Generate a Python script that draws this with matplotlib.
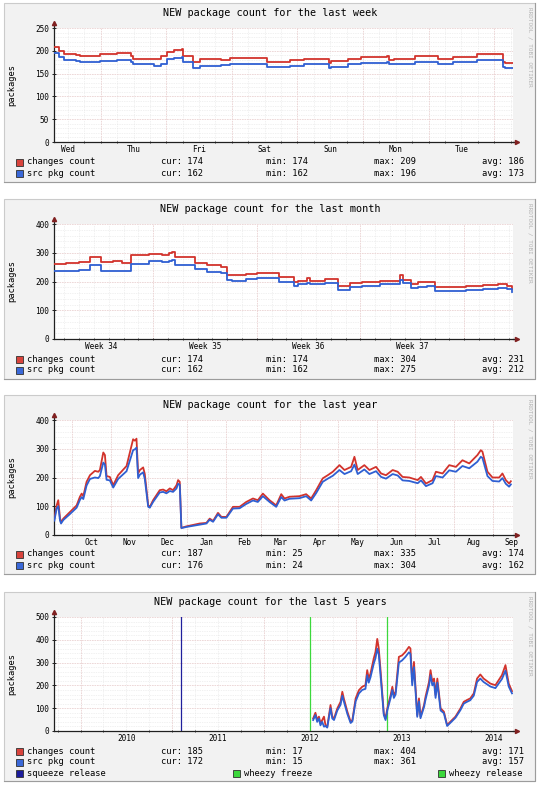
import numpy as np
import pandas as pd
import matplotlib
matplotlib.use('Agg')
import matplotlib.pyplot as plt
import matplotlib.dates as mdates
from matplotlib.patches import Rectangle
from matplotlib.lines import Line2D

# ---------------- data ----------------
# last week: x in hours from the left edge of the graph
week_hours = [0, 2, 3.5, 8, 9.5, 17, 23, 28, 29, 36.5, 39, 41.5, 44, 46.8, 47.2, 51, 53.5, 61,
              64.5, 78, 86.5, 91.5, 100.7, 101.3, 107.5, 112.3, 122, 122.7, 124.5, 132, 140.4,
              146, 155, 164.3, 165, 168]
week_changes = [209, 199, 192, 190, 188, 193, 196, 189, 182, 181, 188, 198, 201, 203, 188, 176,
                181, 179, 185, 176, 179, 182, 174, 177, 183, 187, 188, 180, 183, 188, 183, 187,
                192, 176, 174, 174]
week_src = [196, 187, 180, 177, 176, 178, 180, 176, 170, 166, 172, 182, 185, 187, 175, 163, 167,
            168, 172, 164, 167, 170, 162, 165, 170, 174, 176, 170, 172, 175, 172, 175, 179, 164,
            162, 162]
week_labels = ['Wed', 'Thu', 'Fri', 'Sat', 'Sun', 'Mon', 'Tue']
week_stats = [['174', '174', '209', '186'], ['162', '162', '196', '173']]

# last month: x in days from the left edge of the graph
month_days = [0, 0.8, 1.7, 2.4, 3.2, 4.0, 4.6, 5.2, 6.4, 7.3, 7.8, 8.0, 8.2, 9.0, 9.5, 10.3,
              11.3, 11.7, 12.0, 13.0, 13.7, 15.2, 16.2, 16.5, 17.1, 17.3, 18.3, 19.2, 20.0, 20.8,
              22.0, 23.4, 23.6, 24.1, 24.6, 25.2, 25.7, 26.5, 27.8, 29.0, 30.0, 30.6, 30.9]
month_changes = [262, 265, 268, 285, 268, 270, 266, 291, 296, 293, 300, 304, 286, 285, 264, 256,
                 250, 222, 221, 226, 230, 216, 198, 203, 212, 203, 207, 186, 195, 198, 203, 221,
                 206, 192, 198, 200, 180, 180, 186, 188, 190, 186, 174]
month_src = [236, 238, 240, 256, 237, 238, 238, 262, 270, 268, 272, 275, 258, 256, 242, 232, 228,
             205, 203, 210, 212, 200, 186, 190, 196, 190, 194, 172, 182, 186, 190, 205, 194, 178,
             182, 184, 168, 166, 170, 174, 176, 174, 162]
month_labels = ['Week 34', 'Week 35', 'Week 36', 'Week 37']
month_stats = [['174', '174', '304', '231'], ['162', '162', '275', '212']]

# last year: x in days since 2013-09-17
year_days = [0.3, 2.1, 3.4, 4.8, 5.6, 7.4, 12.7, 18, 20.6, 22, 23.3, 25.9, 28.6, 32.5, 35.2,
             36.5, 39.2, 40.5, 41.8, 44.4, 47.1, 51, 57.7, 62.9, 64.3, 65.6, 66.9, 68.3, 70.9,
             72.2, 74.9, 76.2, 78.8, 84.1, 86.8, 89.4, 92.1, 94.7, 97.4, 98.7, 100, 101.3, 105.3,
             110.6, 115.9, 121.2, 123.8, 126.5, 130.4, 133.1, 137.1, 142.3, 147.6, 152.9, 158.2,
             162.1, 166.1, 171.4, 176.7, 180.7, 183.3, 187.3, 195.2, 200.5, 204.5, 208.5, 213.7,
             217.7, 221.7, 227, 231, 236.3, 238.9, 241.5, 246.8, 250.8, 256.1, 260.1, 264, 269.3,
             273.3, 277.2, 282.5, 289.2, 291.8, 295.8, 301, 303.7, 309, 314.3, 319.6, 324.8,
             330.2, 336.7, 339.4, 340.7, 344.7, 348.7, 354, 356.6, 359.3, 361.9, 363.3]
year_changes = [57, 103, 121, 57, 45, 57, 80, 103, 133, 144,
                135, 185, 208, 223, 220, 226, 287, 278, 205, 202,
                173, 208, 240, 333, 328, 335, 214, 226, 235, 212,
                103, 98, 121, 156, 158, 152, 162, 156, 173, 191,
                185, 25, 30, 35, 40, 42, 57, 49, 77, 63,
                63, 98, 98, 115, 127, 121, 144, 121, 103, 142,
                127, 133, 135, 142, 127, 156, 197, 208, 220, 243,
                226, 237, 272, 226, 243, 226, 237, 214, 208, 226,
                220, 202, 200, 191, 202, 179, 191, 220, 214, 243,
                237, 260, 249, 278, 295, 290, 220, 200, 200, 214,
                191, 179, 187]
year_src = [50, 92, 100, 50, 40, 52, 73, 95, 122, 132,
            125, 172, 195, 200, 198, 205, 252, 245, 192, 190,
            165, 195, 222, 295, 298, 304, 198, 210, 218, 195,
            98, 95, 115, 148, 150, 145, 153, 150, 162, 178,
            175, 24, 28, 32, 36, 40, 53, 46, 72, 60,
            60, 92, 93, 108, 120, 115, 135, 115, 98, 132,
            120, 126, 128, 135, 120, 146, 185, 196, 206, 226,
            212, 222, 245, 212, 228, 212, 222, 202, 196, 212,
            207, 190, 188, 180, 190, 170, 180, 205, 200, 225,
            220, 240, 232, 255, 272, 268, 205, 188, 186, 198,
            178, 168, 176]
year_labels = ['Oct', 'Nov', 'Dec', 'Jan', 'Feb', 'Mar', 'Apr', 'May', 'Jun', 'Jul', 'Aug', 'Sep']
year_month_starts = [14, 45, 75, 106, 137, 165, 196, 226, 257, 287, 318, 349, 379]
year_stats = [['187', '25', '335', '174'], ['176', '24', '304', '162']]

# last 5 years
five_dates = ['2012-07-14', '2012-07-23', '2012-07-30', '2012-08-06', '2012-08-12', '2012-08-19',
              '2012-08-26', '2012-09-01', '2012-09-08', '2012-09-21', '2012-09-28', '2012-10-05',
              '2012-10-18', '2012-10-31', '2012-11-07', '2012-11-13', '2012-11-27', '2012-12-10',
              '2012-12-17', '2012-12-30', '2013-01-12', '2013-01-25', '2013-02-07', '2013-02-14',
              '2013-02-20', '2013-02-27', '2013-03-12', '2013-03-19', '2013-03-26', '2013-04-01',
              '2013-04-08', '2013-04-21', '2013-04-28', '2013-05-05', '2013-05-18', '2013-05-25',
              '2013-05-31', '2013-06-07', '2013-06-20', '2013-07-03', '2013-07-16', '2013-07-30',
              '2013-08-05', '2013-08-12', '2013-08-19', '2013-09-01', '2013-09-08', '2013-09-14',
              '2013-09-28', '2013-10-04', '2013-10-18', '2013-10-24', '2013-10-31', '2013-11-07',
              '2013-11-13', '2013-11-20', '2013-12-03', '2013-12-16', '2013-12-29', '2014-01-11',
              '2014-01-31', '2014-02-20', '2014-03-05', '2014-03-18', '2014-03-31', '2014-04-14',
              '2014-04-27', '2014-05-10', '2014-05-23', '2014-06-19', '2014-07-09', '2014-07-22',
              '2014-08-04', '2014-08-18', '2014-08-31', '2014-09-13']
five_changes = [55, 80, 48, 63, 34, 48, 63, 26, 17, 114,
                63, 55, 99, 128, 172, 143, 85, 41, 48, 143,
                179, 194, 201, 267, 230, 252, 318, 347, 404, 362,
                267, 77, 55, 99, 157, 194, 157, 172, 325, 332,
                347, 369, 362, 216, 303, 70, 143, 63, 114, 150,
                216, 267, 216, 230, 157, 230, 99, 85, 26, 41,
                63, 99, 128, 136, 143, 165, 230, 248, 230, 208,
                201, 223, 245, 289, 208, 175]
five_src = [48, 70, 40, 55, 25, 40, 19, 22, 15, 100,
            55, 48, 90, 115, 155, 130, 75, 35, 42, 130,
            165, 180, 185, 245, 212, 235, 295, 320, 361, 335,
            245, 70, 48, 90, 145, 180, 145, 160, 300, 310,
            325, 345, 338, 200, 280, 62, 130, 56, 105, 138,
            200, 245, 200, 212, 145, 212, 90, 78, 22, 36,
            58, 92, 120, 128, 135, 155, 215, 230, 215, 195,
            188, 208, 228, 265, 195, 165]
five_labels = ['2010', '2011', '2012', '2013', '2014']
release_names = ['squeeze release', 'wheezy freeze', 'wheezy release']
release_dates = ['2011-02-06', '2012-06-30', '2013-05-04']
five_stats = [['185', '17', '404', '171'], ['172', '15', '361', '157']]

# ---------------- look ----------------
W, H = 540, 785
RED = '#d2332c'
BLUE = '#2f5fd2'
SQUEEZE = '#20209c'
GREEN = '#3cd83c'
ARROW = '#802020'
AXIS = '#202020'
MINOR = '#e3e3e3'
MAJOR = '#ead2d2'

plt.rcParams['font.family'] = ['DejaVu Sans Mono']

fig = plt.figure(figsize=(W / 100, H / 100), dpi=100)
fig.patch.set_facecolor('white')

BOXES = [(3, 182), (199, 379), (395, 574), (592, 781)]
PLOTS = [(28, 142), (224, 339), (420, 535), (617, 731)]
PX0, PX1 = 54, 513


def fx(x):
    return x / W


def fy(y):
    return 1 - y / H


def square(x, y, color):
    fig.add_artist(Rectangle((fx(x), fy(y + 3.5)), 7 / W, 7 / H, transform=fig.transFigure,
                             facecolor=color, edgecolor='#303030', lw=0.6))


def draw_panel(n, title, ymax, ystep, ygrid, xlim, label_pos, labels, major_x, minor_x, stats):
    btop, bbot = BOXES[n]
    top, bot = PLOTS[n]
    fig.add_artist(Rectangle((fx(4), fy(bbot)), fx(535) - fx(4), (bbot - btop) / H,
                             transform=fig.transFigure, facecolor='#f2f2f2',
                             edgecolor='#cbcbcb', lw=0.8, zorder=-2))
    fig.add_artist(Line2D([fx(4), fx(535), fx(535)], [fy(bbot), fy(bbot), fy(btop)],
                          transform=fig.transFigure, color='#9c9c9c', lw=0.8, zorder=-1))
    fig.text(fx(270), fy(btop + 10), title, ha='center', va='center', fontsize=7.3)
    fig.text(fx(530), fy(btop + 4), 'RRDTOOL / TOBI OETIKER', rotation=270, ha='center',
             va='top', fontsize=4.3, color='#b4b4b4')
    fig.text(fx(12), fy((top + bot) / 2), 'packages', rotation=90, ha='center', va='center',
             fontsize=6.3)

    ax = fig.add_axes([fx(PX0), fy(bot), fx(PX1) - fx(PX0), (bot - top) / H])
    ax.set_facecolor('white')
    ax.set_xlim(xlim)
    ax.set_ylim(0, ymax)

    for y in np.arange(ygrid, ymax + 1, ygrid):
        if y % ystep == 0:
            ax.axhline(y, color=MAJOR, lw=0.6, ls=(0, (2, 1)), zorder=0.6)
        else:
            ax.axhline(y, color=MINOR, lw=0.5, ls=(0, (1, 1.5)), zorder=0.5)
    for x in minor_x:
        ax.axvline(x, color=MINOR, lw=0.5, ls=(0, (1, 1.5)), zorder=0.5)
    for x in major_x:
        ax.axvline(x, color=MAJOR, lw=0.6, ls=(0, (2, 1)), zorder=0.6)

    for s in ['top', 'right']:
        ax.spines[s].set_visible(False)
    for s in ['left', 'bottom']:
        ax.spines[s].set_color(AXIS)
        ax.spines[s].set_linewidth(0.9)
    ax.set_yticks(np.arange(0, ymax + 1, ystep))
    ax.tick_params(axis='y', length=3, width=0.7, direction='inout', labelsize=5.6, pad=2,
                   color=AXIS)
    ax.set_xticks(label_pos)
    ax.set_xticklabels(labels)
    ax.set_xticks(list(major_x) + list(minor_x), minor=True)
    ax.tick_params(axis='x', which='major', length=0, labelsize=5.6, pad=2.5)
    ax.tick_params(axis='x', which='minor', length=2, width=0.6, direction='inout', color=AXIS)
    ax.tick_params(axis='y', which='minor', length=0)

    # rrdtool style arrows on the axes
    ax.plot([0, 0], [1, 1.045], transform=ax.transAxes, clip_on=False, color=AXIS, lw=0.9)
    ax.plot([0], [1.045], marker='^', ms=3, color=ARROW, transform=ax.transAxes, clip_on=False)
    ax.plot([1, 1.008], [0, 0], transform=ax.transAxes, clip_on=False, color=AXIS, lw=0.9)
    ax.plot([1.008], [0], marker='>', ms=3, color=ARROW, transform=ax.transAxes, clip_on=False)

    # legend rows
    ly = bbot - 20 if n < 3 else bbot - 30
    for row, (name, color) in enumerate([('changes count', '#d8433c'),
                                         ('src pkg count', '#3a68d8')]):
        yy = ly + row * 11
        square(16, yy, color)
        fig.text(fx(27), fy(yy), name, ha='left', va='center', fontsize=6.3)
        for xs, key, val in zip([161, 266, 374, 482], ['cur', 'min', 'max', 'avg'], stats[row]):
            fig.text(fx(xs), fy(yy), key + ': ' + val, ha='left', va='center', fontsize=6.3)
    return ax


# ---- week ----
w_labels = [5.1 + 24 * k for k in range(7)]
w_major = [17.1 + 24 * k for k in range(7)]
w_minor = [x for x in np.arange(-0.9, 168, 6) if x > 0 and min(abs(x - m) for m in w_major) > 1]
ax = draw_panel(0, 'NEW package count for the last week', 250, 50, 10, (0, 168),
                w_labels, week_labels, w_major, w_minor, week_stats)
ax.plot(week_hours, week_changes, drawstyle='steps-post', color=RED, lw=1.3, zorder=3)
ax.plot(week_hours, week_src, drawstyle='steps-post', color=BLUE, lw=1.3, zorder=4)

# ---- month ----
m_labels = [3.2 + 7 * k for k in range(4)]
m_major = [6.7 + 7 * k for k in range(4)]
m_minor = [x for x in np.arange(0.7, 31, 1) if min(abs(x - m) for m in m_major) > 0.2]
ax = draw_panel(1, 'NEW package count for the last month', 400, 100, 20, (0, 31),
                m_labels, month_labels, m_major, m_minor, month_stats)
ax.plot(month_days, month_changes, drawstyle='steps-post', color=RED, lw=1.3, zorder=3)
ax.plot(month_days, month_src, drawstyle='steps-post', color=BLUE, lw=1.3, zorder=4)

# ---- year ----
y_labels = [(a + b) / 2 for a, b in zip(year_month_starts[:-1], year_month_starts[1:])]
ax = draw_panel(2, 'NEW package count for the last year', 400, 100, 20, (0, 365),
                y_labels, year_labels, year_month_starts[:-1], [], year_stats)
ax.plot(year_days, year_changes, color=RED, lw=1.3, zorder=3)
ax.plot(year_days, year_src, color=BLUE, lw=1.3, zorder=4)

# ---- 5 years ----
f_x = mdates.datestr2num(five_dates)
f_labels = mdates.datestr2num([y + '-07-01' for y in five_labels])
f_major = mdates.datestr2num([y + '-01-01' for y in five_labels])
f_minor = [mdates.date2num(d) for d in pd.date_range('2009-10-01', '2014-09-01', freq='QS')
           if d.month != 1]
f_lim = tuple(mdates.datestr2num(['2009-09-17', '2014-09-17']))
ax = draw_panel(3, 'NEW package count for the last 5 years', 500, 100, 20, f_lim,
                f_labels, five_labels, f_major, f_minor, five_stats)
rel_colors = [SQUEEZE, GREEN, GREEN]
for d, c in zip(mdates.datestr2num(release_dates), rel_colors):
    ax.axvline(d, color=c, lw=0.9, zorder=2)
ax.plot(f_x, five_changes, color=RED, lw=1.3, zorder=3)
ax.plot(f_x, five_src, color=BLUE, lw=1.3, zorder=4)

yy = BOXES[3][1] - 8
for xs, name, c in zip([16, 233, 438], release_names, ['#1c1c9c', '#3cd83c', '#3cd83c']):
    square(xs, yy, c)
    fig.text(fx(xs + 11), fy(yy), name, ha='left', va='center', fontsize=6.3)

fig.savefig('out.png', dpi=100)
